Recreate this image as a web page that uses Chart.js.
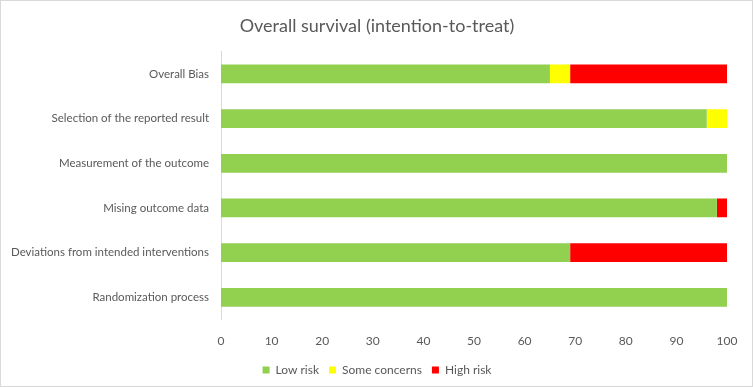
<!DOCTYPE html>
<html>
<head>
<meta charset="utf-8">
<script src="https://cdn.jsdelivr.net/npm/chart.js@4"></script>
<style>
	html, body { margin: 0; padding: 0; background: #fff; }
	#wrap { width: 753px; height: 387px; box-sizing: border-box; border: 1px solid #d9d9d9; position: relative; }
	canvas { display: block; }
</style>
</head>
<body>
<div id="wrap"><canvas id="chartjs-canvas" width="751" height="385"></canvas></div>
<script>
const domains = [
	'Overall Bias',
	'Selection of the reported result',
	'Measurement of the outcome',
	'Mising outcome data',
	'Deviations from intended interventions',
	'Randomization process'
];
const lowRisk = [65, 96, 100, 98, 69, 100];
const someConcerns = [4, 4, 0, 0, 0, 0];
const highRisk = [31, 0, 0, 2, 31, 0];
const xTicks = [0, 10, 20, 30, 40, 50, 60, 70, 80, 90, 100];

const fontFamily = 'Lato, "Open Sans", sans-serif';
const textColor = '#595959';

const bar = (label, data, color) => ({
	label,
	data,
	backgroundColor: color,
	borderWidth: 0,
	barPercentage: 0.42,
	categoryPercentage: 1
});

// nudge title and legend a little to the right, like the original
const shiftBlocks = {
	id: 'shiftBlocks',
	afterUpdate: chart => {
		if (chart.titleBlock) {
			chart.titleBlock.left += 11;
			chart.titleBlock.right += 11;
		}
		if (chart.legend) {
			chart.legend.left += 11;
			chart.legend.right += 11;
		}
	}
};

const config = {
	type: 'bar',
	data: {
		labels: domains,
		datasets: [
			bar('Low risk', lowRisk, '#92d050'),
			bar('Some concerns', someConcerns, '#ffff00'),
			bar('High risk', highRisk, '#ff0000')
		]
	},
	options: {
		indexAxis: 'y',
		responsive: false,
		animation: false,
		layout: { padding: { left: 4, right: 25, top: 12, bottom: 0 } },
		plugins: {
			title: {
				display: true,
				text: 'Overall survival (intention-to-treat)',
				color: textColor,
				font: { family: fontFamily, size: 18, weight: 'normal' },
				padding: { top: 2, bottom: 15 }
			},
			legend: {
				position: 'bottom',
				labels: {
					color: textColor,
					boxWidth: 7,
					boxHeight: 7,
					padding: 10,
					font: { family: fontFamily, size: 12 }
				}
			},
			tooltip: { enabled: false }
		},
		scales: {
			x: {
				stacked: true,
				min: 0,
				max: 100,
				afterBuildTicks: axis => { axis.ticks = xTicks.map(value => ({ value })); },
				grid: { display: false },
				border: { display: false },
				ticks: {
					color: textColor,
					padding: 6,
					font: { family: fontFamily, size: 12 }
				}
			},
			y: {
				stacked: true,
				afterFit: axis => { axis.width = 216; },
				grid: { display: false },
				border: { display: true, color: '#d9d9d9' },
				ticks: {
					color: textColor,
					padding: 4,
					font: { family: fontFamily, size: 11.5 }
				}
			}
		}
	},
	plugins: [shiftBlocks]
};

new Chart(document.getElementById('chartjs-canvas'), config);
</script>
</body>
</html>
